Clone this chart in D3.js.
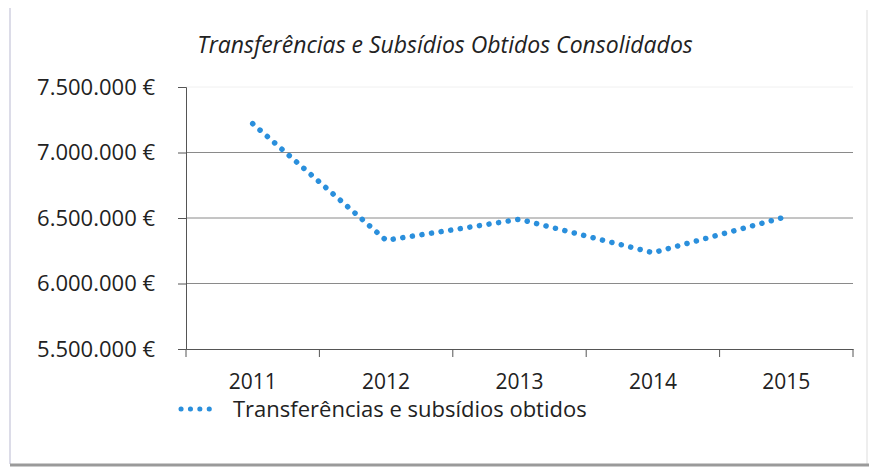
<!DOCTYPE html>
<html>
<head>
<meta charset="utf-8">
<script src="https://cdn.jsdelivr.net/npm/d3@7"></script>
<style>
  body { margin: 0; background: #fff; }
  text { font-family: "Open Sans", "DejaVu Sans", sans-serif; fill: #222; }
</style>
</head>
<body>
<div id="chart"></div>
<script>
// chart data
const years = ["2011", "2012", "2013", "2014", "2015"];
const values = [7220000, 6330000, 6490000, 6235000, 6510000];
const yTicks = [5500000, 6000000, 6500000, 7000000, 7500000];
const seriesName = "Transferências e subsídios obtidos";
const title = "Transferências e Subsídios Obtidos Consolidados";

const width = 869, height = 468;
const margin = {top: 87, right: 16, bottom: 119, left: 186};

const svg = d3.select("#chart").append("svg")
	.attr("width", width)
	.attr("height", height);

// frame of the scanned chart
svg.append("line")
	.attr("x1", 10).attr("x2", 10).attr("y1", 8).attr("y2", 464)
	.attr("stroke", "#dcdce8").attr("stroke-width", 2);
svg.append("line")
	.attr("x1", 867).attr("x2", 867).attr("y1", 10).attr("y2", 464)
	.attr("stroke", "#eeeeee").attr("stroke-width", 2);
svg.append("line")
	.attr("x1", 10).attr("x2", 869).attr("y1", 465).attr("y2", 465)
	.attr("stroke", "#9a9a9a").attr("stroke-width", 3);

const xscale = d3.scaleBand()
	.domain(years)
	.range([margin.left, width - margin.right]);

const yscale = d3.scaleLinear()
	.domain([5500000, 7500000])
	.range([height - margin.bottom, margin.top]);

const fmt = v => d3.format(",")(v).replace(/,/g, ".") + " €";

// gridlines
svg.append("g")
	.selectAll("line")
	.data(yTicks.slice(1))
	.join("line")
	.attr("x1", margin.left)
	.attr("x2", width - margin.right)
	.attr("y1", d => yscale(d))
	.attr("y2", d => yscale(d))
	.attr("stroke", d => d === 7500000 ? "#f0f0f0" : "#8a8a8a")
	.attr("stroke-width", 1);

// y axis
const yAxis = g => g
	.attr("transform", `translate(${margin.left},0)`)
	.call(d3.axisLeft(yscale).tickValues(yTicks).tickSize(8).tickPadding(23).tickFormat(fmt))
	.call(g => g.select(".domain").attr("stroke", "#555"))
	.call(g => g.selectAll(".tick line").attr("stroke", "#555"))
	.call(g => g.selectAll("text").style("font-size", "22px").attr("fill", "#222"));

svg.append("g").call(yAxis);

// x axis, ticks at category boundaries
const xAxis = g => g
	.attr("transform", `translate(0, ${height - margin.bottom})`)
	.call(d3.axisBottom(xscale).tickSize(0).tickPadding(25))
	.call(g => g.select(".domain").attr("stroke", "#555"))
	.call(g => g.selectAll("text").style("font-size", "21px").attr("fill", "#222"));

svg.append("g").call(xAxis);

svg.append("g")
	.selectAll("line")
	.data(years.map(d => xscale(d)).concat([xscale.range()[1]]))
	.join("line")
	.attr("x1", d => d).attr("x2", d => d)
	.attr("y1", height - margin.bottom)
	.attr("y2", height - margin.bottom + 8)
	.attr("stroke", "#555");

// dotted series line
const line = d3.line()
	.x((d, i) => xscale(years[i]) + xscale.bandwidth() / 2)
	.y(d => yscale(d));

svg.append("path")
	.datum(values)
	.attr("d", line)
	.attr("fill", "none")
	.attr("stroke", "#2a8fdc")
	.attr("stroke-width", 5.5)
	.attr("stroke-linecap", "round")
	.attr("stroke-dasharray", "0.1 9.6");

// title
svg.append("text")
	.attr("x", 445)
	.attr("y", 53)
	.attr("text-anchor", "middle")
	.style("font-size", "23px")
	.style("font-style", "italic")
	.text(title);

// legend
svg.append("line")
	.attr("x1", 181).attr("x2", 212)
	.attr("y1", 409).attr("y2", 409)
	.attr("stroke", "#2a8fdc")
	.attr("stroke-width", 5)
	.attr("stroke-linecap", "round")
	.attr("stroke-dasharray", "0.1 9.3");

svg.append("text")
	.attr("x", 233)
	.attr("y", 417)
	.style("font-size", "22px")
	.text(seriesName);
</script>
</body>
</html>
